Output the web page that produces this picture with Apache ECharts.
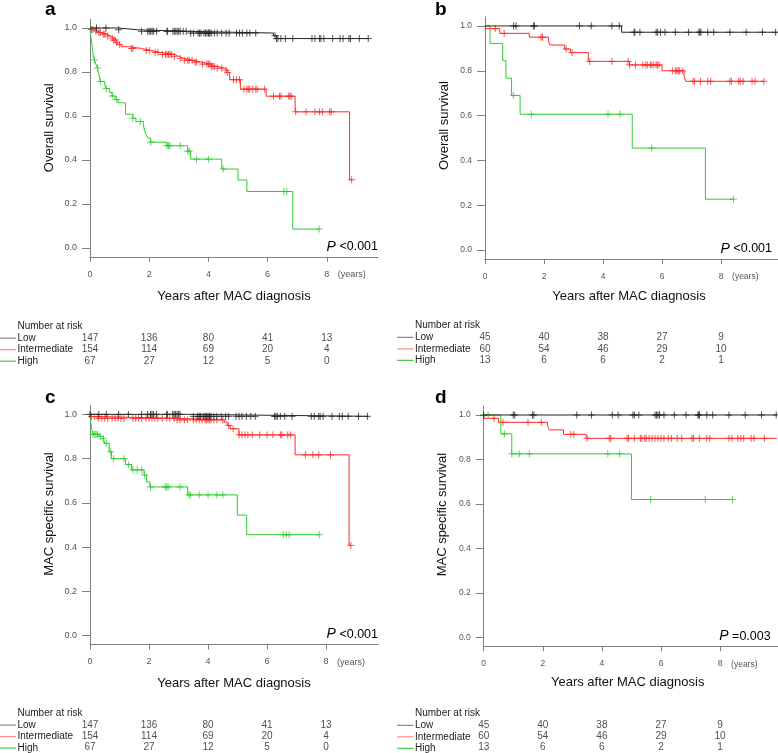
<!DOCTYPE html>
<html><head><meta charset="utf-8">
<script src="https://cdn.jsdelivr.net/npm/echarts@6/dist/echarts.min.js"></script>
<style>html,body{margin:0;padding:0;background:#fff}#c{width:778px;height:753px}</style>
</head><body><div id="c"></div>
<script>
// ---------- data ----------
const xTicks = [0, 2, 4, 6, 8];
const yTicks = [0, 0.2, 0.4, 0.6, 0.8, 1.0];
const groups = ['Low', 'Intermediate', 'High'];

// Panel a: overall survival (cohort 1)
const osA_low = [[0,1],[0.95,0.992],[1.6,0.985],[3.3,0.977],[6.2,0.965],[6.3,0.952],[9.4,0.952]];
const osA_int = [[0,1],[0.05,0.993],[0.12,0.986],[0.25,0.979],[0.4,0.972],[0.55,0.963],[0.7,0.954],[0.8,0.945],[0.9,0.935],[0.95,0.925],[1.05,0.915],[1.3,0.907],[1.75,0.898],[2.05,0.889],[2.35,0.88],[2.85,0.871],[3.0,0.862],[3.15,0.853],[3.5,0.845],[3.75,0.836],[4.1,0.826],[4.3,0.817],[4.55,0.808],[4.65,0.798],[4.72,0.765],[5.08,0.722],[5.95,0.69],[6.93,0.619],[8.77,0.31],[8.84,0.31]];
const osA_high = [[0,1],[0.02,0.97],[0.05,0.94],[0.08,0.91],[0.1,0.88],[0.15,0.855],[0.2,0.835],[0.25,0.818],[0.3,0.79],[0.35,0.757],[0.5,0.74],[0.55,0.725],[0.65,0.707],[0.75,0.691],[0.85,0.675],[0.95,0.66],[1.2,0.608],[1.45,0.59],[1.55,0.575],[1.8,0.56],[1.85,0.53],[1.9,0.515],[1.95,0.5],[2.05,0.481],[2.6,0.465],[3.3,0.44],[3.4,0.404],[4.45,0.359],[5.0,0.309],[5.3,0.257],[6.85,0.086],[7.75,0.086]];
const censA_low = [0.22,0.54,0.97,1.74,1.95,2.0,2.05,2.1,2.15,2.25,2.6,2.62,2.8,2.85,2.9,2.95,3.0,3.05,3.15,3.25,3.4,3.5,3.65,3.7,3.75,3.85,3.9,3.95,4.0,4.02,4.05,4.1,4.2,4.3,4.45,4.6,4.7,4.95,5.05,5.15,5.3,5.4,5.6,6.25,6.3,6.35,6.45,6.6,6.85,7.5,7.6,7.75,7.8,7.9,8.2,8.45,8.55,8.75,8.8,9.1,9.4];
const censA_int = [0.05,0.1,0.2,0.3,0.35,0.45,0.5,0.6,0.75,0.8,0.85,0.9,1.0,1.4,1.45,1.9,2.0,2.2,2.3,2.45,2.55,2.6,2.65,2.7,2.75,2.85,3.05,3.2,3.3,3.35,3.45,3.55,3.6,3.8,3.95,4.0,4.05,4.1,4.15,4.2,4.3,4.45,4.6,4.65,4.85,4.95,5.05,5.2,5.3,5.35,5.4,5.5,5.6,5.65,5.9,6.2,6.4,6.45,6.7,6.75,6.8,6.95,7.3,7.6,7.75,7.85,8.1,8.15,8.84];
const censA_high = [0.15,0.25,0.35,0.55,0.75,0.9,1.45,1.7,2.05,2.6,2.65,2.7,3.05,3.3,3.35,3.6,4.0,4.5,6.55,6.65,7.74];

// Panel b: overall survival (cohort 2)
const osB_low = [[0,1],[4.63,0.972],[9.9,0.972]];
const osB_int = [[0,1],[0.02,0.988],[0.5,0.967],[1.5,0.95],[2.15,0.933],[2.2,0.915],[2.7,0.897],[2.9,0.881],[3.5,0.842],[4.9,0.826],[6.0,0.8],[6.75,0.775],[6.8,0.753],[9.45,0.753]];
const osB_high = [[0,1],[0.17,0.922],[0.6,0.845],[0.71,0.767],[0.9,0.69],[1.19,0.606],[4.99,0.455],[7.47,0.227],[8.42,0.227]];
const censB_low = [0.97,1.05,1.65,1.67,3.2,3.6,4.3,4.55,5.05,5.08,5.25,5.8,5.85,5.95,6.1,6.45,6.9,7.25,7.28,7.32,7.55,7.75,8.3,8.85,9.4,9.85];
const censB_int = [0.35,0.65,1.9,1.95,2.75,2.95,3.55,4.3,4.85,4.9,5.1,5.35,5.45,5.5,5.6,5.65,5.72,5.8,5.85,5.9,6.35,6.45,6.5,6.55,6.6,6.7,7.05,7.1,7.3,7.55,7.65,8.3,8.35,8.6,8.65,8.75,9.05,9.15,9.45];
const censB_high = [0.96,1.57,4.17,4.58,5.65,8.42];

// Panel c: MAC specific survival (cohort 1)
const mssC_low = [[0,1],[3.3,0.991],[9.43,0.991]];
const mssC_int = [[0,1],[0.05,0.99],[0.3,0.982],[2.9,0.975],[4.55,0.965],[4.65,0.95],[4.75,0.935],[5.05,0.907],[6.95,0.817],[8.78,0.408],[8.84,0.408]];
const mssC_high = [[0,1],[0.02,0.97],[0.05,0.94],[0.1,0.91],[0.3,0.9],[0.45,0.89],[0.5,0.869],[0.65,0.831],[0.73,0.8],[1.2,0.773],[1.41,0.749],[1.83,0.726],[1.92,0.695],[2.03,0.672],[3.31,0.636],[4.99,0.545],[5.31,0.456],[7.77,0.456]];
const censC_low = [0.0,0.3,0.55,0.97,1.3,1.75,1.95,2.05,2.1,2.15,2.25,2.6,2.62,2.8,2.85,2.9,2.95,3.0,3.05,3.5,3.65,3.7,3.75,3.85,3.9,3.95,4.0,4.05,4.1,4.2,4.3,4.45,4.6,4.7,4.95,5.05,5.15,5.3,5.45,5.6,6.25,6.3,6.35,6.45,6.6,6.85,7.5,7.6,7.75,7.8,7.9,8.2,8.45,8.55,8.75,9.1,9.4];
const censC_int = [0.05,0.15,0.25,0.3,0.4,0.5,0.6,0.75,0.85,0.95,1.05,1.15,1.45,1.55,1.65,1.75,1.9,2.0,2.1,2.2,2.3,2.45,2.6,2.7,2.85,2.95,3.05,3.2,3.3,3.5,3.6,3.7,3.8,3.9,3.95,4.0,4.05,4.1,4.2,4.3,4.5,4.7,4.85,5.05,5.15,5.25,5.35,5.5,5.75,6.0,6.2,6.45,6.5,6.7,6.8,7.3,7.55,7.75,8.15,8.84];
const censC_high = [0.1,0.15,0.2,0.25,0.35,0.45,0.55,0.7,0.8,1.15,1.3,1.45,1.6,1.75,1.85,2.05,2.55,2.6,2.65,3.05,3.35,3.4,3.7,4.0,4.3,4.5,6.55,6.65,6.75,7.77];

// Panel d: MAC specific survival (cohort 2)
const mssD_low = [[0,1],[9.92,1]];
const mssD_int = [[0,1],[0.02,0.985],[0.5,0.967],[2.16,0.952],[2.22,0.933],[2.7,0.913],[3.47,0.895],[9.92,0.895]];
const mssD_high = [[0,1],[0.58,0.915],[0.95,0.825],[5.0,0.62],[8.42,0.62]];
const censD_low = [0.0,1.0,1.05,1.65,1.7,3.15,3.65,4.35,4.55,5.05,5.1,5.25,5.8,5.85,5.9,5.95,6.1,6.45,6.85,7.25,7.28,7.3,7.55,7.75,8.3,8.85,9.4,9.9];
const censD_int = [0.35,0.65,1.5,1.95,2.95,3.05,3.5,4.25,4.3,4.85,4.9,5.1,5.3,5.35,5.45,5.5,5.6,5.7,5.8,5.9,6.0,6.1,6.25,6.35,6.55,6.7,7.05,7.1,7.3,7.55,7.65,8.3,8.4,8.6,8.7,8.8,9.05,9.15,9.5];
const censD_high = [0.15,0.7,0.95,1.2,1.55,4.2,4.6,5.65,7.5,8.42];

// Number at risk
const riskA_low = [147,136,80,41,13], riskA_int = [154,114,69,20,4], riskA_high = [67,27,12,5,0];
const riskB_low = [45,40,38,27,9],   riskB_int = [60,54,46,29,10], riskB_high = [13,6,6,2,1];
const riskC_low = [147,136,80,41,13], riskC_int = [154,114,69,20,4], riskC_high = [67,27,12,5,0];
const riskD_low = [45,40,38,27,9],   riskD_int = [60,54,46,29,10], riskD_high = [13,6,6,2,1];

const panelLetters = ['a','b','c','d'];
const yTitles = ['Overall survival','Overall survival','MAC specific survival','MAC specific survival'];
const xTitle = 'Years after MAC diagnosis';
const pTexts = ['<0.001','<0.001','<0.001','=0.003'];

// ---------- layout / style ----------
const COL = ['#262626', '#ff2b2b', '#2fcc2f'];
const LEG = ['#8a8a8a', '#ff8c8c', '#3fcf3f'];
const FONT = '"Liberation Sans", Arial, Helvetica, sans-serif';
const layout = [
  {left: 90,    width: 288,   top: 19.2,  height: 237.6, xMax: 9.73, riskTop: 332.4, tf: 9,   letX: 45,  letY: 0,     xtY: 296},
  {left: 485,   width: 293,   top: 17,    height: 242,   xMax: 9.93, riskTop: 331.6, tf: 8.5, letX: 435, letY: 0,     xtY: 296},
  {left: 90,    width: 288,   top: 405.5, height: 239,   xMax: 9.76, riskTop: 719.3, tf: 9,   letX: 45,  letY: 388.5, xtY: 683},
  {left: 483.7, width: 294.3, top: 406.1, height: 240.1, xMax: 9.96, riskTop: 719.6, tf: 8.5, letX: 435, letY: 388.5, xtY: 682}
];
const curves = [
  [osA_low, osA_int, osA_high], [osB_low, osB_int, osB_high],
  [mssC_low, mssC_int, mssC_high], [mssD_low, mssD_int, mssD_high]
];
const censors = [
  [censA_low, censA_int, censA_high], [censB_low, censB_int, censB_high],
  [censC_low, censC_int, censC_high], [censD_low, censD_int, censD_high]
];
const risks = [
  [riskA_low, riskA_int, riskA_high], [riskB_low, riskB_int, riskB_high],
  [riskC_low, riskC_int, riskC_high], [riskD_low, riskD_int, riskD_high]
];

function sAt(steps, t) {
  let s = steps[0][1];
  for (const p of steps) { if (p[0] <= t) s = p[1]; else break; }
  return s;
}

const grid = [], xAxis = [], yAxis = [], series = [], graphic = [];
const axisCol = '#808080';

layout.forEach((L, i) => {
  grid.push({left: L.left, width: L.width, top: L.top, height: L.height, containLabel: false});
  xAxis.push({
    type: 'value', gridIndex: i, min: 0, max: L.xMax,
    axisLine: {show: true, onZero: false, lineStyle: {color: axisCol, width: 1}},
    axisTick: {show: true, length: 5, customValues: xTicks, lineStyle: {color: axisCol}},
    axisLabel: {customValues: xTicks, fontSize: L.tf, color: '#555', margin: 13, fontFamily: FONT},
    splitLine: {show: false}
  });
  yAxis.push({
    type: 'value', gridIndex: i, min: -0.04, max: 1.04,
    axisLine: {show: true, lineStyle: {color: axisCol, width: 1}},
    axisTick: {show: true, length: 8, customValues: yTicks, lineStyle: {color: axisCol}},
    axisLabel: {customValues: yTicks, fontSize: L.tf, color: '#555', margin: 13, fontFamily: FONT,
      formatter: v => Number(v).toFixed(1)},
    splitLine: {show: false}
  });
});
// risk table grids
layout.forEach((L, i) => {
  grid.push({left: L.left, width: L.width, top: L.riskTop, height: 34.5});
  xAxis.push({type: 'value', gridIndex: 4 + i, min: 0, max: L.xMax, show: false});
  yAxis.push({type: 'category', gridIndex: 4 + i, data: groups, inverse: true, show: false});
});

layout.forEach((L, i) => {
  for (let g = 0; g < 3; g++) {
    series.push({
      type: 'line', xAxisIndex: i, yAxisIndex: i, step: 'end', symbol: 'none',
      data: curves[i][g], lineStyle: {color: COL[g], width: 1}, animation: false, z: 3 - g + 2
    });
    series.push({
      type: 'scatter', xAxisIndex: i, yAxisIndex: i,
      data: censors[i][g].map(t => [t, sAt(curves[i][g], t)]),
      symbol: 'path://M4,0L4,8M0,4L8,4', symbolSize: 7,
      itemStyle: {color: 'rgba(0,0,0,0)', borderColor: COL[g], borderWidth: 1},
      animation: false, z: 3 - g + 2
    });
  }
  const rd = [];
  for (let g = 0; g < 3; g++) xTicks.forEach((x, k) => rd.push([x, groups[g], risks[i][g][k]]));
  series.push({
    type: 'scatter', xAxisIndex: 4 + i, yAxisIndex: 4 + i, data: rd, symbolSize: 1,
    itemStyle: {color: 'rgba(0,0,0,0)'}, animation: false,
    label: {show: true, position: 'inside', formatter: p => String(p.value[2]),
      fontSize: 10, color: '#222', fontFamily: FONT}
  });

  // texts
  const cx = L.left - 41;
  const yMid = L.top + 108.5;
  graphic.push({type: 'text', x: L.letX, y: L.letY, style: {text: panelLetters[i],
    font: 'bold 19px ' + FONT, fill: '#000', textAlign: 'left', textVerticalAlign: 'top'}});
  graphic.push({type: 'text', x: cx, y: yMid, rotation: Math.PI / 2,
    style: {text: yTitles[i], font: '13px ' + FONT, fill: '#111', textAlign: 'center', textVerticalAlign: 'middle'}});
  const axisY = L.top + L.height;
  graphic.push({type: 'text', x: L.left + 144, y: L.xtY,
    style: {text: xTitle, font: '13px ' + FONT, fill: '#111', textAlign: 'center', textVerticalAlign: 'middle'}});
  graphic.push({type: 'text', x: L.left + 8 * L.width / L.xMax + 11, y: axisY + 18,
    style: {text: '(years)', font: L.tf + 'px ' + FONT, fill: '#555', textAlign: 'left', textVerticalAlign: 'middle'}});
  graphic.push({type: 'text', x: L.left + (i % 2 ? 287 : 288), y: L.top + L.height * (1.04 - 0.005) / 1.08,
    style: {text: '{i|P} ' + pTexts[i], textAlign: 'right', textVerticalAlign: 'middle',
      font: '12.5px ' + FONT, fill: '#000',
      rich: {i: {fontStyle: 'italic', fontSize: 14, fontFamily: FONT, fill: '#000'}}}});
  // risk table labels
  const tx = i % 2 ? 415 : 17.5;
  graphic.push({type: 'text', x: tx, y: L.riskTop - 6.5,
    style: {text: 'Number at risk', font: '10px ' + FONT, fill: '#222', textAlign: 'left', textVerticalAlign: 'middle'}});
  for (let g = 0; g < 3; g++) {
    const ry = L.riskTop + 5.75 + g * 11.5;
    graphic.push({type: 'text', x: tx, y: ry,
      style: {text: groups[g], font: '10px ' + FONT, fill: '#222', textAlign: 'left', textVerticalAlign: 'middle'}});
    graphic.push({type: 'line', shape: {x1: tx - 18, y1: ry, x2: tx - 1.5, y2: ry},
      style: {stroke: LEG[g], lineWidth: 1.2}});
  }
});

const chart = echarts.init(document.getElementById('c'), null, {renderer: 'canvas'});
chart.setOption({animation: false, backgroundColor: '#fff', grid, xAxis, yAxis, series, graphic});
</script>
</body></html>
